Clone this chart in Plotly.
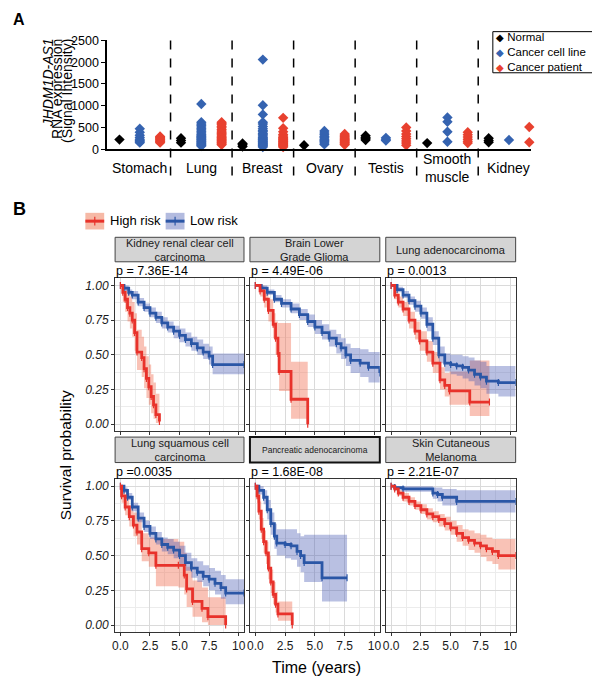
import plotly.graph_objects as go

# The page body keeps the browser's default 8px margin, so the figure is drawn 8px in
# and is 16px smaller; all layout positions below are given in screen pixels.
OFF = 8
W, H = 600 - 2 * OFF, 685 - OFF
FONT = "Liberation Sans, Arial, sans-serif"

# ---------------- Panel A data ----------------
tissues = ["Stomach", "Lung", "Breast", "Ovary", "Testis", "Smooth<br>muscle", "Kidney"]
normal_vals = [[220], [250, 200, 150], [130, 100, 60], [90], [310, 270, 240, 210], [140], [250, 200, 160]]
cell_line_vals = [
    [470, 390, 320, 270, 230, 200, 170, 150],
    [1040, 620, 580, 550, 510, 470, 440, 400, 370, 340, 310, 290, 270, 250, 230, 210, 190, 170, 150, 130, 110, 90, 70],
    [2060, 1010, 800, 620, 580, 520, 470, 430, 400, 360, 330, 300, 270, 250, 230, 210, 190, 170, 150, 130, 110, 90, 70, 50],
    [420, 370, 330, 290, 260, 230, 200, 170, 140, 110],
    [260, 230, 200],
    [730, 630, 400, 170],
    [210],
]
patient_vals = [
    [290, 270, 250, 230, 210, 190, 170, 150],
    [620, 590, 560, 520, 490, 450, 420, 390, 360, 330, 300, 280, 260, 240, 220, 200, 180, 160, 140, 120, 100],
    [720, 480, 400, 340, 300, 270, 250, 230, 210, 190, 170, 150, 130, 110, 90, 70, 50],
    [350, 320, 290, 260, 240, 220, 200, 180, 160, 140, 120, 100],
    [500, 420, 350, 290, 240, 190, 140, 90],
    [390, 330, 280, 230, 180, 140],
    [510, 160],
]
a_yticks = [0, 500, 1000, 1500, 2000, 2500]
a_legend = ["Normal", "Cancer cell line", "Cancer patient"]

# ---------------- Panel B data ----------------
kirc_high_t = [0, 0.2, 0.4, 0.6, 0.8, 1.0, 1.2, 1.4, 1.8, 2.0, 2.2, 2.4, 2.6, 2.8, 3.0, 3.3]
kirc_high_s = [1, 0.95, 0.90, 0.84, 0.80, 0.75, 0.66, 0.52, 0.48, 0.40, 0.33, 0.27, 0.20, 0.14, 0.07, 0.02]
kirc_high_lo = [1, 0.88, 0.81, 0.74, 0.69, 0.63, 0.53, 0.39, 0.34, 0.26, 0.19, 0.14, 0.08, 0.04, 0.01, 0.0]
kirc_high_hi = [1, 1.0, 0.98, 0.95, 0.92, 0.88, 0.80, 0.68, 0.63, 0.56, 0.49, 0.43, 0.36, 0.30, 0.22, 0.12]
kirc_low_t = [0, 0.3, 0.7, 1.0, 1.5, 2.0, 2.5, 3.0, 3.5, 4.0, 4.5, 5.0, 5.5, 6.0, 6.5, 7.0, 7.5, 7.8, 10.45]
kirc_low_s = [1, 0.98, 0.95, 0.93, 0.88, 0.84, 0.80, 0.77, 0.73, 0.70, 0.67, 0.64, 0.61, 0.58, 0.55, 0.52, 0.49, 0.43, 0.43]
kirc_low_lo = [1, 0.96, 0.93, 0.90, 0.85, 0.81, 0.77, 0.73, 0.69, 0.66, 0.62, 0.59, 0.56, 0.53, 0.50, 0.47, 0.43, 0.36, 0.36]
kirc_low_hi = [1, 1.0, 0.97, 0.96, 0.91, 0.87, 0.84, 0.81, 0.77, 0.74, 0.71, 0.69, 0.66, 0.63, 0.61, 0.58, 0.56, 0.51, 0.51]

lgg_high_t = [0, 0.4, 0.75, 1.1, 1.5, 1.7, 1.9, 2.0, 3.0, 4.4]
lgg_high_s = [1, 0.96, 0.90, 0.82, 0.72, 0.62, 0.51, 0.38, 0.18, 0.0]
lgg_high_lo = [1, 0.92, 0.84, 0.74, 0.62, 0.50, 0.37, 0.24, 0.04, 0.0]
lgg_high_hi = [1, 1.0, 0.96, 0.90, 0.80, 0.74, 0.73, 0.73, 0.45, 0.45]
lgg_low_t = [0, 0.5, 1.0, 1.6, 2.2, 3.0, 3.7, 4.4, 5.0, 5.6, 6.2, 6.8, 7.2, 7.6, 8.0, 8.8, 9.5, 10.45]
lgg_low_s = [1, 0.98, 0.95, 0.90, 0.87, 0.83, 0.79, 0.74, 0.70, 0.66, 0.62, 0.58, 0.55, 0.50, 0.46, 0.44, 0.41, 0.37]
lgg_low_lo = [1, 0.97, 0.93, 0.88, 0.84, 0.80, 0.75, 0.70, 0.65, 0.61, 0.56, 0.51, 0.47, 0.42, 0.37, 0.34, 0.30, 0.26]
lgg_low_hi = [1, 1.0, 0.97, 0.93, 0.90, 0.87, 0.83, 0.79, 0.75, 0.72, 0.68, 0.65, 0.62, 0.58, 0.55, 0.54, 0.52, 0.49]

luad_high_t = [0, 0.3, 0.6, 1.0, 1.5, 2.0, 2.4, 3.0, 3.5, 4.1, 4.5, 4.9, 6.6, 8.25]
luad_high_s = [1, 0.93, 0.88, 0.83, 0.75, 0.67, 0.60, 0.52, 0.44, 0.32, 0.28, 0.24, 0.16, 0.16]
luad_high_lo = [1, 0.90, 0.84, 0.78, 0.69, 0.61, 0.53, 0.45, 0.37, 0.25, 0.20, 0.14, 0.06, 0.06]
luad_high_hi = [1, 0.96, 0.92, 0.88, 0.81, 0.74, 0.67, 0.60, 0.52, 0.41, 0.37, 0.38, 0.46, 0.46]
luad_low_t = [0, 0.5, 1.0, 1.5, 2.0, 2.5, 3.0, 3.5, 4.0, 4.5, 5.0, 5.5, 6.0, 6.5, 7.0, 7.5, 8.0, 9.0, 10.45]
luad_low_s = [1, 0.97, 0.93, 0.89, 0.85, 0.80, 0.72, 0.62, 0.50, 0.44, 0.43, 0.42, 0.41, 0.39, 0.36, 0.34, 0.31, 0.30, 0.30]
luad_low_lo = [1, 0.95, 0.91, 0.86, 0.81, 0.76, 0.67, 0.57, 0.44, 0.38, 0.36, 0.35, 0.33, 0.31, 0.28, 0.26, 0.22, 0.20, 0.20]
luad_low_hi = [1, 0.99, 0.96, 0.92, 0.89, 0.84, 0.77, 0.67, 0.56, 0.51, 0.50, 0.50, 0.49, 0.48, 0.46, 0.45, 0.42, 0.42, 0.42]

lusc_high_t = [0, 0.1, 0.4, 0.75, 1.1, 1.4, 1.8, 2.4, 3.0, 4.9, 5.4, 5.6, 6.1, 6.9, 7.4, 8.9]
lusc_high_s = [1, 0.93, 0.85, 0.78, 0.72, 0.67, 0.55, 0.52, 0.43, 0.43, 0.36, 0.26, 0.17, 0.12, 0.06, 0.0]
lusc_high_lo = [1, 0.88, 0.79, 0.71, 0.64, 0.58, 0.46, 0.42, 0.28, 0.27, 0.22, 0.13, 0.06, 0.02, 0.0, 0.0]
lusc_high_hi = [1, 0.98, 0.92, 0.86, 0.81, 0.77, 0.66, 0.63, 0.62, 0.60, 0.52, 0.42, 0.32, 0.27, 0.20, 0.20]
lusc_low_t = [0, 0.3, 0.6, 1.0, 1.5, 2.0, 2.5, 3.0, 3.5, 4.0, 4.5, 5.0, 5.5, 6.0, 6.5, 7.0, 7.5, 8.0, 8.5, 8.9, 10.45]
lusc_low_s = [1, 0.97, 0.92, 0.85, 0.77, 0.71, 0.66, 0.62, 0.58, 0.56, 0.54, 0.50, 0.45, 0.41, 0.38, 0.35, 0.33, 0.30, 0.27, 0.23, 0.23]
lusc_low_lo = [1, 0.95, 0.90, 0.82, 0.74, 0.67, 0.62, 0.58, 0.53, 0.51, 0.48, 0.44, 0.39, 0.34, 0.31, 0.28, 0.25, 0.22, 0.19, 0.15, 0.15]
lusc_low_hi = [1, 0.99, 0.95, 0.88, 0.81, 0.75, 0.71, 0.67, 0.63, 0.62, 0.60, 0.57, 0.52, 0.48, 0.46, 0.43, 0.41, 0.39, 0.36, 0.33, 0.33]

paad_high_t = [0, 0.15, 0.3, 0.5, 0.7, 0.9, 1.1, 1.3, 1.5, 1.7, 1.9, 3.1]
paad_high_s = [1, 0.93, 0.82, 0.69, 0.60, 0.52, 0.41, 0.31, 0.22, 0.15, 0.08, 0.0]
paad_high_lo = [1, 0.88, 0.76, 0.62, 0.52, 0.44, 0.33, 0.23, 0.15, 0.09, 0.03, 0.0]
paad_high_hi = [1, 0.98, 0.89, 0.77, 0.68, 0.60, 0.50, 0.40, 0.31, 0.24, 0.17, 0.17]
paad_low_t = [0, 0.3, 0.7, 1.0, 1.3, 1.6, 1.8, 2.5, 3.0, 3.5, 3.8, 4.1, 5.6, 7.7]
paad_low_s = [1, 0.97, 0.92, 0.83, 0.73, 0.64, 0.59, 0.58, 0.57, 0.53, 0.50, 0.45, 0.34, 0.34]
paad_low_lo = [1, 0.94, 0.87, 0.76, 0.65, 0.55, 0.50, 0.48, 0.47, 0.42, 0.38, 0.31, 0.17, 0.17]
paad_low_hi = [1, 1.0, 0.97, 0.90, 0.81, 0.73, 0.69, 0.69, 0.69, 0.66, 0.64, 0.65, 0.65, 0.65]

skcm_high_t = [0, 0.3, 0.6, 1.0, 1.5, 2.0, 2.5, 3.0, 3.5, 4.0, 4.5, 5.0, 5.5, 6.0, 6.5, 7.0, 7.5, 8.0, 8.5, 9.0, 10.45]
skcm_high_s = [1, 0.98, 0.95, 0.92, 0.89, 0.86, 0.83, 0.80, 0.78, 0.76, 0.73, 0.70, 0.66, 0.63, 0.61, 0.59, 0.57, 0.55, 0.53, 0.50, 0.50]
skcm_high_lo = [1, 0.97, 0.93, 0.89, 0.86, 0.83, 0.80, 0.76, 0.74, 0.71, 0.68, 0.65, 0.60, 0.57, 0.54, 0.52, 0.49, 0.46, 0.44, 0.40, 0.40]
skcm_high_hi = [1, 0.99, 0.97, 0.95, 0.92, 0.89, 0.87, 0.84, 0.82, 0.80, 0.78, 0.75, 0.72, 0.69, 0.68, 0.66, 0.65, 0.63, 0.62, 0.62, 0.62]
skcm_low_t = [0, 0.3, 1.0, 3.5, 3.9, 4.3, 5.5, 10.45]
skcm_low_s = [1, 0.99, 0.98, 0.95, 0.94, 0.92, 0.89, 0.89]
skcm_low_lo = [1, 0.97, 0.96, 0.91, 0.89, 0.86, 0.81, 0.81]
skcm_low_hi = [1, 1.0, 1.0, 0.99, 0.99, 0.98, 0.97, 0.97]

panel_titles = ["Kidney renal clear cell<br>carcinoma", "Brain Lower<br>Grade Glioma", "Lung adenocarcinoma",
                "Lung squamous cell<br>carcinoma", "Pancreatic adenocarcinoma", "Skin Cutaneous<br>Melanoma"]
p_labels = ["p = 7.36E-14", "p = 4.49E-06", "p = 0.0013", "p =0.0035", "p = 1.68E-08", "p = 2.21E-07"]
km_xticks = [0, 2.5, 5, 7.5, 10]
km_xticktext = ["0.0", "2.5", "5.0", "7.5", "10"]
km_yticks = [0, 0.25, 0.5, 0.75, 1.0]
km_yticktext = ["0.00", "0.25", "0.50", "0.75", "1.00"]

km_data = [
    (kirc_high_t, kirc_high_s, kirc_high_lo, kirc_high_hi, kirc_low_t, kirc_low_s, kirc_low_lo, kirc_low_hi),
    (lgg_high_t, lgg_high_s, lgg_high_lo, lgg_high_hi, lgg_low_t, lgg_low_s, lgg_low_lo, lgg_low_hi),
    (luad_high_t, luad_high_s, luad_high_lo, luad_high_hi, luad_low_t, luad_low_s, luad_low_lo, luad_low_hi),
    (lusc_high_t, lusc_high_s, lusc_high_lo, lusc_high_hi, lusc_low_t, lusc_low_s, lusc_low_lo, lusc_low_hi),
    (paad_high_t, paad_high_s, paad_high_lo, paad_high_hi, paad_low_t, paad_low_s, paad_low_lo, paad_low_hi),
    (skcm_high_t, skcm_high_s, skcm_high_lo, skcm_high_hi, skcm_low_t, skcm_low_s, skcm_low_lo, skcm_low_hi),
]

# ---------------- styling ----------------
RED = "#e8322b"
BLUE = "#2a56a6"
A_BLACK = "#000000"
A_BLUE = "#3563b0"
A_RED = "#e8412f"
RED_BAND = "rgba(240,110,80,0.42)"
BLUE_BAND = "rgba(70,90,180,0.38)"


def pxx(x):
    return (x - OFF) / W


def pxy(y):
    return 1 - (y - OFF) / H


fig = go.Figure()
shapes = []
annotations = []

# ---------------- Panel A ----------------
series = [(normal_vals, A_BLACK, -0.33), (cell_line_vals, A_BLUE, 0.0), (patient_vals, A_RED, 0.33)]
for vals, col, off in series:
    xs, ys = [], []
    for g, v in enumerate(vals):
        xs += [g + off] * len(v)
        ys += v
    fig.add_trace(go.Scatter(x=xs, y=ys, mode="markers", xaxis="x", yaxis="y",
                             marker=dict(symbol="diamond", size=8, color=col, line=dict(width=0)),
                             cliponaxis=False, showlegend=False, hoverinfo="skip"))

A_L, A_R, A_T, A_B = 105, 532, 34, 145
for g in range(len(tissues) - 1):
    shapes.append(dict(type="line", xref="x", yref="paper", x0=g + 0.5, x1=g + 0.5,
                       y0=pxy(A_T), y1=pxy(177), line=dict(color="black", width=1.5, dash="dash")))
for g, name in enumerate(tissues):
    annotations.append(dict(text=name, xref="x", yref="paper", x=g, y=pxy(164), showarrow=False,
                            xanchor="center", yanchor="middle", font=dict(size=14, color="black", family=FONT)))

# y title lines (rotated)
for txt, xc, yc, italic in [("JHDM1D-AS1", 45, 77, True), ("RNA expression", 55, 84, False),
                            ("(Signal Intensity)", 65, 86, False)]:
    annotations.append(dict(text=txt, xref="paper", yref="paper", x=pxx(xc), y=pxy(yc), textangle=-90,
                            showarrow=False, xanchor="center", yanchor="middle",
                            font=dict(size=14, color="black", family=FONT, style="italic" if italic else "normal")))

# legend A (one text block)
shapes.append(dict(type="rect", xref="paper", yref="paper", x0=pxx(494), x1=pxx(596), y0=pxy(25), y1=pxy(67),
                   line=dict(color="black", width=1), fillcolor="white"))
legend_lines = [f'<span style="color:{col};font-size:10px">◆</span> {txt}'
                for txt, col in zip(a_legend, [A_BLACK, A_BLUE, A_RED])]
annotations.append(dict(text="<br>".join(legend_lines), xref="paper", yref="paper", x=pxx(496), y=pxy(45.5),
                        showarrow=False, borderpad=0, align="left", xanchor="left", yanchor="middle",
                        font=dict(size=11.5, color="black", family=FONT)))

annotations.append(dict(text="<b>A</b>", xref="paper", yref="paper", x=pxx(OFF), y=pxy(13), showarrow=False,
                        xanchor="left", yanchor="middle", font=dict(size=16, color="black", family=FONT)))
annotations.append(dict(text="<b>B</b>", xref="paper", yref="paper", x=pxx(OFF), y=pxy(206), showarrow=False,
                        xanchor="left", yanchor="middle", font=dict(size=18, color="black", family=FONT)))

layout = dict(
    xaxis=dict(domain=[pxx(A_L), pxx(A_R)], range=[-0.53, 6.35], anchor="y", showline=True, linecolor="black",
               linewidth=1.5, showticklabels=False, ticks="", showgrid=False, zeroline=False),
    yaxis=dict(domain=[pxy(A_B), pxy(A_T)], range=[0, 2500], anchor="x", showline=True, linecolor="black",
               linewidth=1.5, tickvals=a_yticks, ticks="outside", ticklen=4, tickcolor="black",
               showgrid=False, zeroline=False, tickfont=dict(size=12.5, color="black", family=FONT)),
)

# ---------------- Panel B ----------------
cols_px = [(113, 243), (249, 380), (386, 517)]
rows_px = [(277, 433), (482, 638)]
strips_px = [(235, 260), (439, 465)]
p_y = [269, 475]

for i, d in enumerate(km_data):
    r, c = divmod(i, 3)
    k = i + 2
    xa, ya = f"x{k}", f"y{k}"
    ht, hs, hlo, hhi, lt, ls, llo, lhi = d
    for t, lo, hi, fc in [(ht, hlo, hhi, RED_BAND), (lt, llo, lhi, BLUE_BAND)]:
        fig.add_trace(go.Scatter(x=t, y=lo, mode="lines", line=dict(width=0, shape="hv"), xaxis=xa, yaxis=ya,
                                 showlegend=False, hoverinfo="skip"))
        fig.add_trace(go.Scatter(x=t, y=hi, mode="lines", line=dict(width=0, shape="hv"), fill="tonexty",
                                 fillcolor=fc, xaxis=xa, yaxis=ya, showlegend=False, hoverinfo="skip"))
    for t, s, col in [(lt, ls, BLUE), (ht, hs, RED)]:
        fig.add_trace(go.Scatter(x=t, y=s, mode="lines+markers", line=dict(width=2.8, color=col, shape="hv"),
                                 marker=dict(symbol="line-ns", size=5, color=col, line=dict(color=col, width=1.2)),
                                 xaxis=xa, yaxis=ya, showlegend=False, hoverinfo="skip"))
    L, R = cols_px[c]
    T, B = rows_px[r]
    layout[f"xaxis{k}"] = dict(domain=[pxx(L), pxx(R)], range=[-0.45, 10.45], anchor=ya,
                               showline=True, mirror=True, linecolor="#333333", linewidth=1,
                               tickvals=km_xticks, ticktext=km_xticktext, ticks="outside", ticklen=3,
                               tickcolor="#333333", showticklabels=(r == 1),
                               tickfont=dict(size=12, color="#1a1a1a", family=FONT),
                               showgrid=True, gridcolor="#dadada", gridwidth=1.1, zeroline=False,
                               minor=dict(tickvals=[1.25, 3.75, 6.25, 8.75], showgrid=True,
                                          gridcolor="#ececec", gridwidth=0.6, ticks=""))
    layout[f"yaxis{k}"] = dict(domain=[pxy(B), pxy(T)], range=[-0.05, 1.05], anchor=xa,
                               showline=True, mirror=True, linecolor="#333333", linewidth=1,
                               tickvals=km_yticks, ticktext=km_yticktext, ticks="outside", ticklen=3,
                               tickcolor="#333333", showticklabels=(c == 0),
                               tickfont=dict(size=12, color="#1a1a1a", family=FONT, style="italic"),
                               showgrid=True, gridcolor="#dadada", gridwidth=1.1, zeroline=False,
                               minor=dict(tickvals=[0.125, 0.375, 0.625, 0.875], showgrid=True,
                                          gridcolor="#ececec", gridwidth=0.6, ticks=""))
    sT, sB = strips_px[r]
    pan = (i == 4)
    shapes.append(dict(type="rect", xref="paper", yref="paper", x0=pxx(L), x1=pxx(R), y0=pxy(sB), y1=pxy(sT),
                       fillcolor="#d4d4d4", line=dict(color="#111111" if pan else "#444444", width=2 if pan else 1)))
    annotations.append(dict(text=panel_titles[i], xref="paper", yref="paper", x=pxx((L + R) / 2),
                            y=pxy((sT + sB) / 2), showarrow=False, xanchor="center", yanchor="middle",
                            font=dict(size=8.5 if pan else 11, color="#1a1a1a", family=FONT)))
    annotations.append(dict(text=p_labels[i], xref="paper", yref="paper", x=pxx(L - 1), y=pxy(p_y[r]),
                            showarrow=False, xanchor="left", yanchor="middle",
                            font=dict(size=12.5, color="black", family=FONT)))

# axis titles B
annotations.append(dict(text="Survival probability", xref="paper", yref="paper", x=pxx(63), y=pxy(458),
                        textangle=-90, showarrow=False, xanchor="center", yanchor="middle",
                        font=dict(size=15.5, color="black", family=FONT)))
annotations.append(dict(text="Time (years)", xref="paper", yref="paper", x=pxx(316), y=pxy(674),
                        showarrow=False, xanchor="center", yanchor="middle",
                        font=dict(size=16, color="black", family=FONT)))

# legend B
for x0, x1, band, col, txt, tx in [(83, 102, "#f6b9a6", RED, "High risk", 106),
                                   (164, 183, "#b3bbdf", BLUE, "Low risk", 187)]:
    shapes.append(dict(type="rect", xref="paper", yref="paper", x0=pxx(x0), x1=pxx(x1), y0=pxy(227), y1=pxy(210),
                       fillcolor=band, line=dict(width=0)))
    shapes.append(dict(type="line", xref="paper", yref="paper", x0=pxx(x0), x1=pxx(x1), y0=pxy(218.5),
                       y1=pxy(218.5), line=dict(color=col, width=3)))
    shapes.append(dict(type="line", xref="paper", yref="paper", x0=pxx((x0 + x1) / 2), x1=pxx((x0 + x1) / 2),
                       y0=pxy(214), y1=pxy(223), line=dict(color=col, width=1.2)))
    annotations.append(dict(text=txt, xref="paper", yref="paper", x=pxx(tx), y=pxy(218), showarrow=False,
                            xanchor="left", yanchor="middle", font=dict(size=13, color="black", family=FONT)))

fig.update_layout(
    width=W, height=H, margin=dict(l=0, r=0, t=0, b=0),
    paper_bgcolor="white", plot_bgcolor="white",
    font=dict(family=FONT, color="black"),
    shapes=shapes, annotations=annotations, showlegend=False,
    **layout,
)

fig.write_html("out.html")
